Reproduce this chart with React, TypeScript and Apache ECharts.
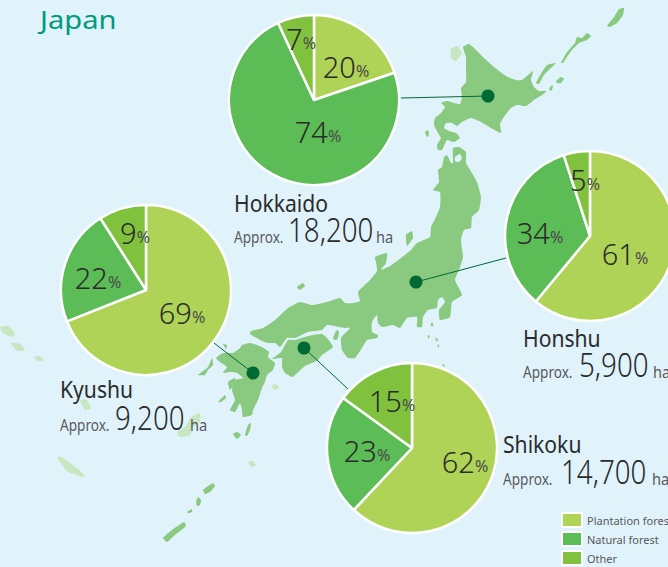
import React, { useEffect, useRef } from "react";
import * as echarts from "echarts";

const FONT = '"Noto Sans", "Open Sans", sans-serif';
const categories = ["Plantation forest", "Natural forest", "Other"];
const regionNames = ["Hokkaido", "Kyushu", "Honshu", "Shikoku"];
const regionAreas = ["18,200", "9,200", "5,900", "14,700"];
const hokkaidoValues = [20, 74, 7];
const kyushuValues = [69, 22, 9];
const honshuValues = [61, 34, 5];
const shikokuValues = [62, 23, 15];
const regionValues = [hokkaidoValues, kyushuValues, honshuValues, shikokuValues];
const pieColors = ["#aed356", "#5cbc56", "#80c23e"];

const pieCenters = [[314, 100], [146, 290], [590, 236], [412, 448]];
const labelSpots = [
  [[346, 66], [318, 131], [301, 38]],
  [[182, 312], [98, 277], [135, 232]],
  [[625, 253], [540, 232], [585, 179]],
  [[465, 461], [367, 450], [392, 400]],
];
const captionSpots = [
  { x: 234, name: 212, amount: 241, numX: 288, haX: 376 },
  { x: 60, name: 398, amount: 429, numX: 115, haX: 190 },
  { x: 523, name: 347, amount: 376, numX: 579, haX: 653 },
  { x: 503, name: 453, amount: 483, numX: 561, haX: 652 },
];
const leaders = [
  [401, 98, 488, 96],
  [214, 343, 253, 373],
  [506, 258, 416, 282],
  [348, 389, 304, 348],
];

const MAIN = "#8aca80";
const PALE = "#c8e6c0";
const BG = "#e0f3fb";

const mainland = [
  // Hokkaido
  [463, 47, 469, 44, 476, 50, 484, 58, 494, 67, 506, 76, 516, 80, 522, 80, 533, 71, 531, 80, 534, 87, 539, 91, 547, 91, 542, 95, 534, 100, 526, 106, 517, 105, 511, 108, 504, 117, 500, 124, 501, 133, 491, 128, 481, 122, 471, 118, 462, 122, 457, 126, 452, 123, 446, 123, 444, 128, 449, 131, 456, 133, 460, 138, 454, 142, 447, 140, 442, 150, 438, 150, 437, 145, 441, 138, 438, 133, 434, 125, 435, 118, 441, 113, 445, 107, 441, 103, 447, 101, 454, 103, 460, 104, 462, 97, 461, 88, 466, 82, 466, 67, 466, 57],
  // Honshu
  [444, 157, 447, 155, 451, 163, 453, 163, 453, 148, 459, 147, 466, 152, 466, 163, 472, 173, 477, 182, 481, 197, 479, 210, 472, 217, 471, 228, 464, 230, 461, 240, 463, 257, 459, 270, 455, 280, 462, 295, 452, 302, 450, 317, 440, 320, 439, 310, 445, 302, 442, 297, 438, 300, 437, 308, 428, 310, 423, 317, 422, 327, 417, 327, 417, 317, 407, 318, 400, 328, 393, 325, 382, 327, 378, 323, 377, 315, 372, 322, 372, 332, 378, 335, 377, 338, 367, 340, 362, 348, 355, 358, 348, 358, 342, 350, 341, 338, 350, 328, 345, 328, 327, 325, 322, 330, 308, 332, 295, 338, 287, 338, 280, 347, 275, 343, 267, 343, 260, 340, 250, 334, 251, 331, 263, 328, 275, 320, 288, 308, 300, 302, 312, 305, 327, 302, 340, 298, 345, 303, 353, 303, 360, 301, 358, 292, 370, 280, 377, 271, 376, 262, 375, 257, 387, 253, 386, 263, 381, 270, 390, 266, 401, 258, 411, 250, 417, 243, 430, 237, 431, 227, 436, 217, 440, 207, 440, 192, 433, 190, 439, 182, 438, 170, 442, 167],
  // Shikoku
  [281, 352, 288, 340, 295, 340, 305, 337, 313, 335, 322, 334, 327, 338, 333, 347, 322, 355, 318, 360, 312, 363, 305, 366, 295, 375, 292, 377, 285, 373, 282, 367, 282, 358, 272, 359],
  // Kyushu
  [242, 345, 250, 343, 262, 347, 269, 352, 268, 357, 275, 363, 273, 370, 267, 375, 265, 382, 262, 388, 258, 400, 253, 410, 252, 415, 243, 417, 242, 410, 240, 403, 235, 412, 230, 410, 235, 400, 232, 390, 235, 380, 243, 378, 237, 373, 230, 372, 223, 373, 227, 367, 220, 362, 216, 358, 223, 353, 233, 353, 240, 348],
  // Small islands
  [425, 132, 428, 130, 429, 135, 427, 137],
  [536, 83, 542, 72, 547, 65, 556, 63, 551, 68, 544, 75, 539, 84],
  [561, 63, 567, 52, 575, 43, 577, 37, 582, 38, 587, 33, 591, 36, 587, 40, 579, 43, 572, 50, 567, 57, 563, 63],
  [607, 26, 614, 17, 619, 9, 624, 8, 623, 15, 617, 23, 610, 27],
  [556, 81, 561, 77, 564, 79, 561, 83, 557, 83],
  [549, 89, 552, 85, 553, 87, 551, 91],
  [406, 235, 412, 231, 413, 238, 407, 246],
  [333, 339, 336, 331, 338, 330, 339, 333, 337, 340],
  [198, 375, 208, 367, 212, 358, 213, 365, 208, 370, 205, 375],
  [228, 382, 235, 378, 235, 383, 230, 390],
  [218, 402, 225, 395, 226, 398, 221, 402],
  [245, 435, 248, 425, 251, 423, 250, 430, 247, 436],
  [233, 434, 237, 432, 241, 435, 237, 439],
  [203, 490, 213, 483, 215, 486, 210, 492, 205, 494],
  [196, 502, 198, 497, 201, 500, 200, 505, 197, 506],
  [187, 512, 192, 509, 192, 512, 188, 513],
  [163, 538, 172, 530, 184, 522, 186, 526, 175, 535, 167, 542],
  [297, 287, 303, 283, 305, 286, 300, 290],
  [223, 344, 227, 345, 226, 349],
  [431, 323, 433, 323, 433, 326, 431, 326],
  [428, 335, 430, 336, 428, 339],
  [435, 338, 438, 339, 437, 342],
  [437, 345, 439, 345, 439, 348],
  [442, 364, 445, 365, 444, 367],
];
const paleIslands = [
  [451, 49, 457, 46, 462, 53, 456, 61, 451, 58],
  [271, 386, 275, 384, 279, 387, 275, 390],
  [248, 462, 253, 461, 256, 465, 252, 467],
  [0, 327, 8, 326, 15, 333, 12, 337, 3, 333],
  [11, 343, 20, 344, 25, 350, 17, 351],
  [34, 357, 40, 356, 44, 360, 38, 361],
  [80, 400, 87, 400, 91, 408, 85, 410],
  [177, 432, 185, 427, 191, 417, 200, 413, 200, 422, 192, 428, 190, 435, 180, 437],
  [57, 457, 62, 457, 85, 475, 82, 477, 67, 471],
];
const bays = [[455, 157, 460, 154, 462, 158, 459, 162, 455, 161]];

function shape(flat: number[], fill: string) {
  const points: number[][] = [];
  for (let i = 0; i < flat.length; i += 2) points.push([flat[i], flat[i + 1]]);
  return { type: "polygon", silent: true, z: 0, shape: { points, smooth: 0.15 }, style: { fill } };
}

function text(t: string, x: number, y: number, size: number, fill: string, scaleX: number, fontWeight: any = 400) {
  return {
    type: "text", x, y, scaleX, z: 10, silent: true,
    style: { text: t, x: 0, y: 0, fontSize: size, fontFamily: FONT, fontWeight, fill, textAlign: "left", textVerticalAlign: "bottom", verticalAlign: "alphabetic" },
  };
}

export default function App() {
  const ref = useRef<HTMLDivElement>(null);
  useEffect(() => {
    document.body.style.margin = "0";
    const chart = echarts.init(ref.current!, undefined, { renderer: "svg" });
    const captions: any[] = [];
    regionNames.forEach((name, i) => {
      const c = captionSpots[i];
      captions.push(text(name, c.x, c.name + 3, 24, "#2b2b2b", 0.88));
      captions.push(text("Approx.", c.x, c.amount + 4, 17, "#58595b", 0.8));
      captions.push(text(regionAreas[i], c.numX, c.amount + 5, 33, "#2b2b2b", 0.84, 300));
      captions.push(text("ha", c.haX, c.amount + 4, 17, "#58595b", 0.86));
    });
    const series = regionNames.map((name, i) => ({
      type: "pie",
      name,
      center: pieCenters[i],
      radius: [0, 85],
      startAngle: 90,
      clockwise: true,
      silent: true,
      z: 5,
      itemStyle: { borderColor: "#ffffff", borderWidth: 2.5 },
      labelLine: { show: false },
      label: {
        show: true,
        position: "inside",
        formatter: "{n|{c}}{p|%}",
        rich: {
          n: { fontSize: 29, color: "#2b2b2b", fontFamily: FONT, fontWeight: 300 },
          p: { fontSize: 16, color: "#4a4a4a", fontFamily: FONT, fontWeight: 400, padding: [10, 0, 0, 0] },
        },
      },
      labelLayout: (p: any) => ({
        x: labelSpots[i][p.dataIndex][0],
        y: labelSpots[i][p.dataIndex][1],
        align: "center",
        verticalAlign: "middle",
      }),
      data: categories.map((c, k) => ({ name: c, value: regionValues[i][k], itemStyle: { color: pieColors[k] } })),
    }));
    chart.setOption({
      animation: false,
      backgroundColor: BG,
      legend: {
        left: 561, top: 512, height: 80, orient: "vertical", icon: "rect", itemWidth: 20, itemHeight: 14, itemGap: 3, padding: 0,
        selectedMode: false,
        textStyle: { fontSize: 11, color: "#58595b", fontFamily: FONT, lineHeight: 14 },
        data: categories,
      },
      graphic: {
        elements: [
          ...paleIslands.map((p) => shape(p, PALE)),
          ...mainland.map((p) => shape(p, MAIN)),
          ...bays.map((p) => shape(p, BG)),
          ...leaders.map((l) => ({ type: "line", silent: true, z: 1, shape: { x1: l[0], y1: l[1], x2: l[2], y2: l[3] }, style: { stroke: "#006934", lineWidth: 1 } })),
          ...leaders.map((l) => ({ type: "circle", silent: true, z: 1, shape: { cx: l[2], cy: l[3], r: 6.5 }, style: { fill: "#006934" } })),
          text("Japan", 40, 32, 26, "#009a7c", 1.12),
          ...captions,
        ],
      },
      series,
    });
    return () => chart.dispose();
  }, []);
  return <div ref={ref} style={{ width: 668, height: 567 }} />;
}
